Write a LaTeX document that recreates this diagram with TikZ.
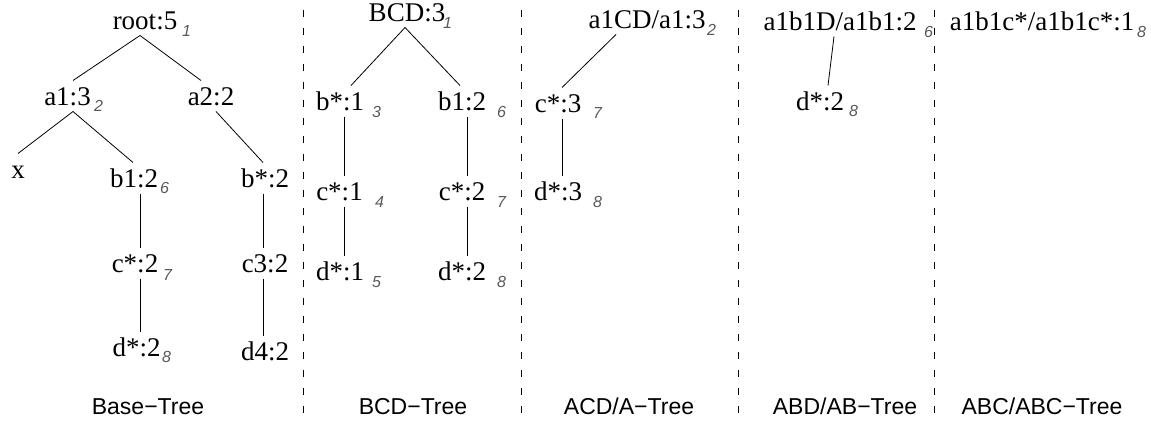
\documentclass[tikz,border=0pt]{standalone}
\usepackage{fontspec}
\setmainfont{Liberation Serif}
\setsansfont{Liberation Sans}
\begin{document}
\begin{tikzpicture}[x=1pt,y=-1pt,
  tn/.style={inner sep=0pt,outer sep=6.5pt,anchor=base,text height=18pt,text depth=0pt,font=\fontsize{27}{31}\selectfont},
  idx/.style={inner sep=0pt,anchor=base west,text=black!65,font=\sffamily\itshape\fontsize{16}{18}\selectfont},
  treelabel/.style={inner sep=0pt,anchor=base,font=\sffamily\fontsize{23}{27}\selectfont},
  sepline/.style={dash pattern=on 7pt off 11pt,line width=0.8pt},
  lnk/.style={line width=0.8pt}]
\useasboundingbox (0,0) rectangle (1151,423);
% separators
\coordinate (s1t) at (303,10); \coordinate (s1b) at (303,423);
\coordinate (s2t) at (521,10); \coordinate (s2b) at (521,423);
\coordinate (s3t) at (738,10); \coordinate (s3b) at (738,423);
\coordinate (s4t) at (934,10); \coordinate (s4b) at (934,423);
\draw[sepline] (s1t) -- (s1b);
\draw[sepline] (s2t) -- (s2b);
\draw[sepline] (s3t) -- (s3b);
\draw[sepline] (s4t) -- (s4b);
% Base tree
\node[tn] (r) at (145,29) {root:5};
\node[idx] (ri) at (182,36) {1};
\node[tn] (a1) at (67.5,105) {a1:3};
\node[idx] (a1i) at (94,111) {2};
\node[tn] (a2) at (211,105) {a2:2};
\node[tn] (x) at (18,178) {x};
\node[tn] (b1) at (134,187) {b1:2};
\node[idx] (b1i) at (160,193) {6};
\node[tn] (bs) at (265,187) {b*:2};
\node[tn] (cs) at (135,272) {c*:2};
\node[idx] (csi) at (163,280) {7};
\node[tn] (c3) at (265,272) {c3:2};
\node[tn] (ds) at (136.5,356) {d*:2};
\node[idx] (dsi) at (162,362) {8};
\node[tn] (d4) at (265,360) {d4:2};
\draw[lnk] ([xshift=-5pt]r.south) -- ([xshift=5.5pt]a1.north);
\draw[lnk] ([xshift=-5pt]r.south) -- ([xshift=-10pt]a2.north);
\draw[lnk] ([xshift=5.5pt]a1.south) -- (x.north);
\draw[lnk] ([xshift=5.5pt]a1.south) -- ([xshift=-1pt]b1.north);
\draw[lnk] ([xshift=5pt]a2.south) -- ([xshift=-2pt]bs.north);
\draw[lnk] ([xshift=6pt]b1.south) -- ([xshift=5pt]cs.north);
\draw[lnk] ([xshift=5pt]cs.south) -- ([xshift=3.5pt]ds.north);
\draw[lnk] ([xshift=-2pt]bs.south) -- ([xshift=-2pt]c3.north);
\draw[lnk] ([xshift=-2pt]c3.south) -- ([xshift=-2pt]d4.north);
\node[treelabel] (l1) at (148,414) {Base−Tree};
% BCD tree
\node[tn] (B) at (407,21) {BCD:3};
\node[idx] (Bi) at (443,28) {1};
\node[tn] (Bb) at (340,110) {b*:1};
\node[idx] (Bbi) at (372,117) {3};
\node[tn] (Bb1) at (462,110) {b1:2};
\node[idx] (Bb1i) at (497,117) {6};
\node[tn] (Bc) at (339.5,200) {c*:1};
\node[idx] (Bci) at (375,207) {4};
\node[tn] (Bc2) at (462,200) {c*:2};
\node[idx] (Bc2i) at (497,207) {7};
\node[tn] (Bd) at (340,280) {d*:1};
\node[idx] (Bdi) at (372,287) {5};
\node[tn] (Bd2) at (462,280) {d*:2};
\node[idx] (Bd2i) at (497,287) {8};
\draw[lnk] ([xshift=-2pt]B.south) -- ([xshift=11pt]Bb.north);
\draw[lnk] ([xshift=-2pt]B.south) -- ([xshift=-2pt]Bb1.north);
\draw[lnk] ([xshift=4pt]Bb.south) -- ([xshift=4.5pt]Bc.north);
\draw[lnk] ([xshift=4.5pt]Bc.south) -- ([xshift=4pt]Bd.north);
\draw[lnk] ([xshift=5pt]Bb1.south) -- ([xshift=5pt]Bc2.north);
\draw[lnk] ([xshift=5pt]Bc2.south) -- ([xshift=5pt]Bd2.north);
\node[treelabel] (l2) at (413,414) {BCD−Tree};
% ACD/A tree
\node[tn] (A) at (647,28) {a1CD/a1:3};
\node[idx] (Ai) at (707,35) {2};
\node[tn] (Ac) at (558,112) {c*:3};
\node[idx] (Aci) at (593,118) {7};
\node[tn] (Ad) at (558,200) {d*:3};
\node[idx] (Adi) at (593,207) {8};
\draw[lnk] ([xshift=-31pt]A.south) -- ([xshift=4pt]Ac.north);
\draw[lnk] ([xshift=4pt]Ac.south) -- ([xshift=4pt]Ad.north);
\node[treelabel] (l3) at (629,414) {ACD/A−Tree};
% ABD/AB tree
\node[tn] (D) at (840,30) {a1b1D/a1b1:2};
\node[idx] (Di) at (924,37) {6};
\node[tn] (Dd) at (820,110) {d*:2};
\node[idx] (Ddi) at (849,116) {8};
\draw[lnk] ([xshift=-6pt]D.south) -- ([xshift=8pt]Dd.north);
\node[treelabel] (l4) at (845,414) {ABD/AB−Tree};
% ABC/ABC tree
\node[tn] (C) at (1042,30) {a1b1c*/a1b1c*:1};
\node[idx] (Ci) at (1137,37) {8};
\node[treelabel] (l5) at (1042,414) {ABC/ABC−Tree};
\end{tikzpicture}
\end{document}
